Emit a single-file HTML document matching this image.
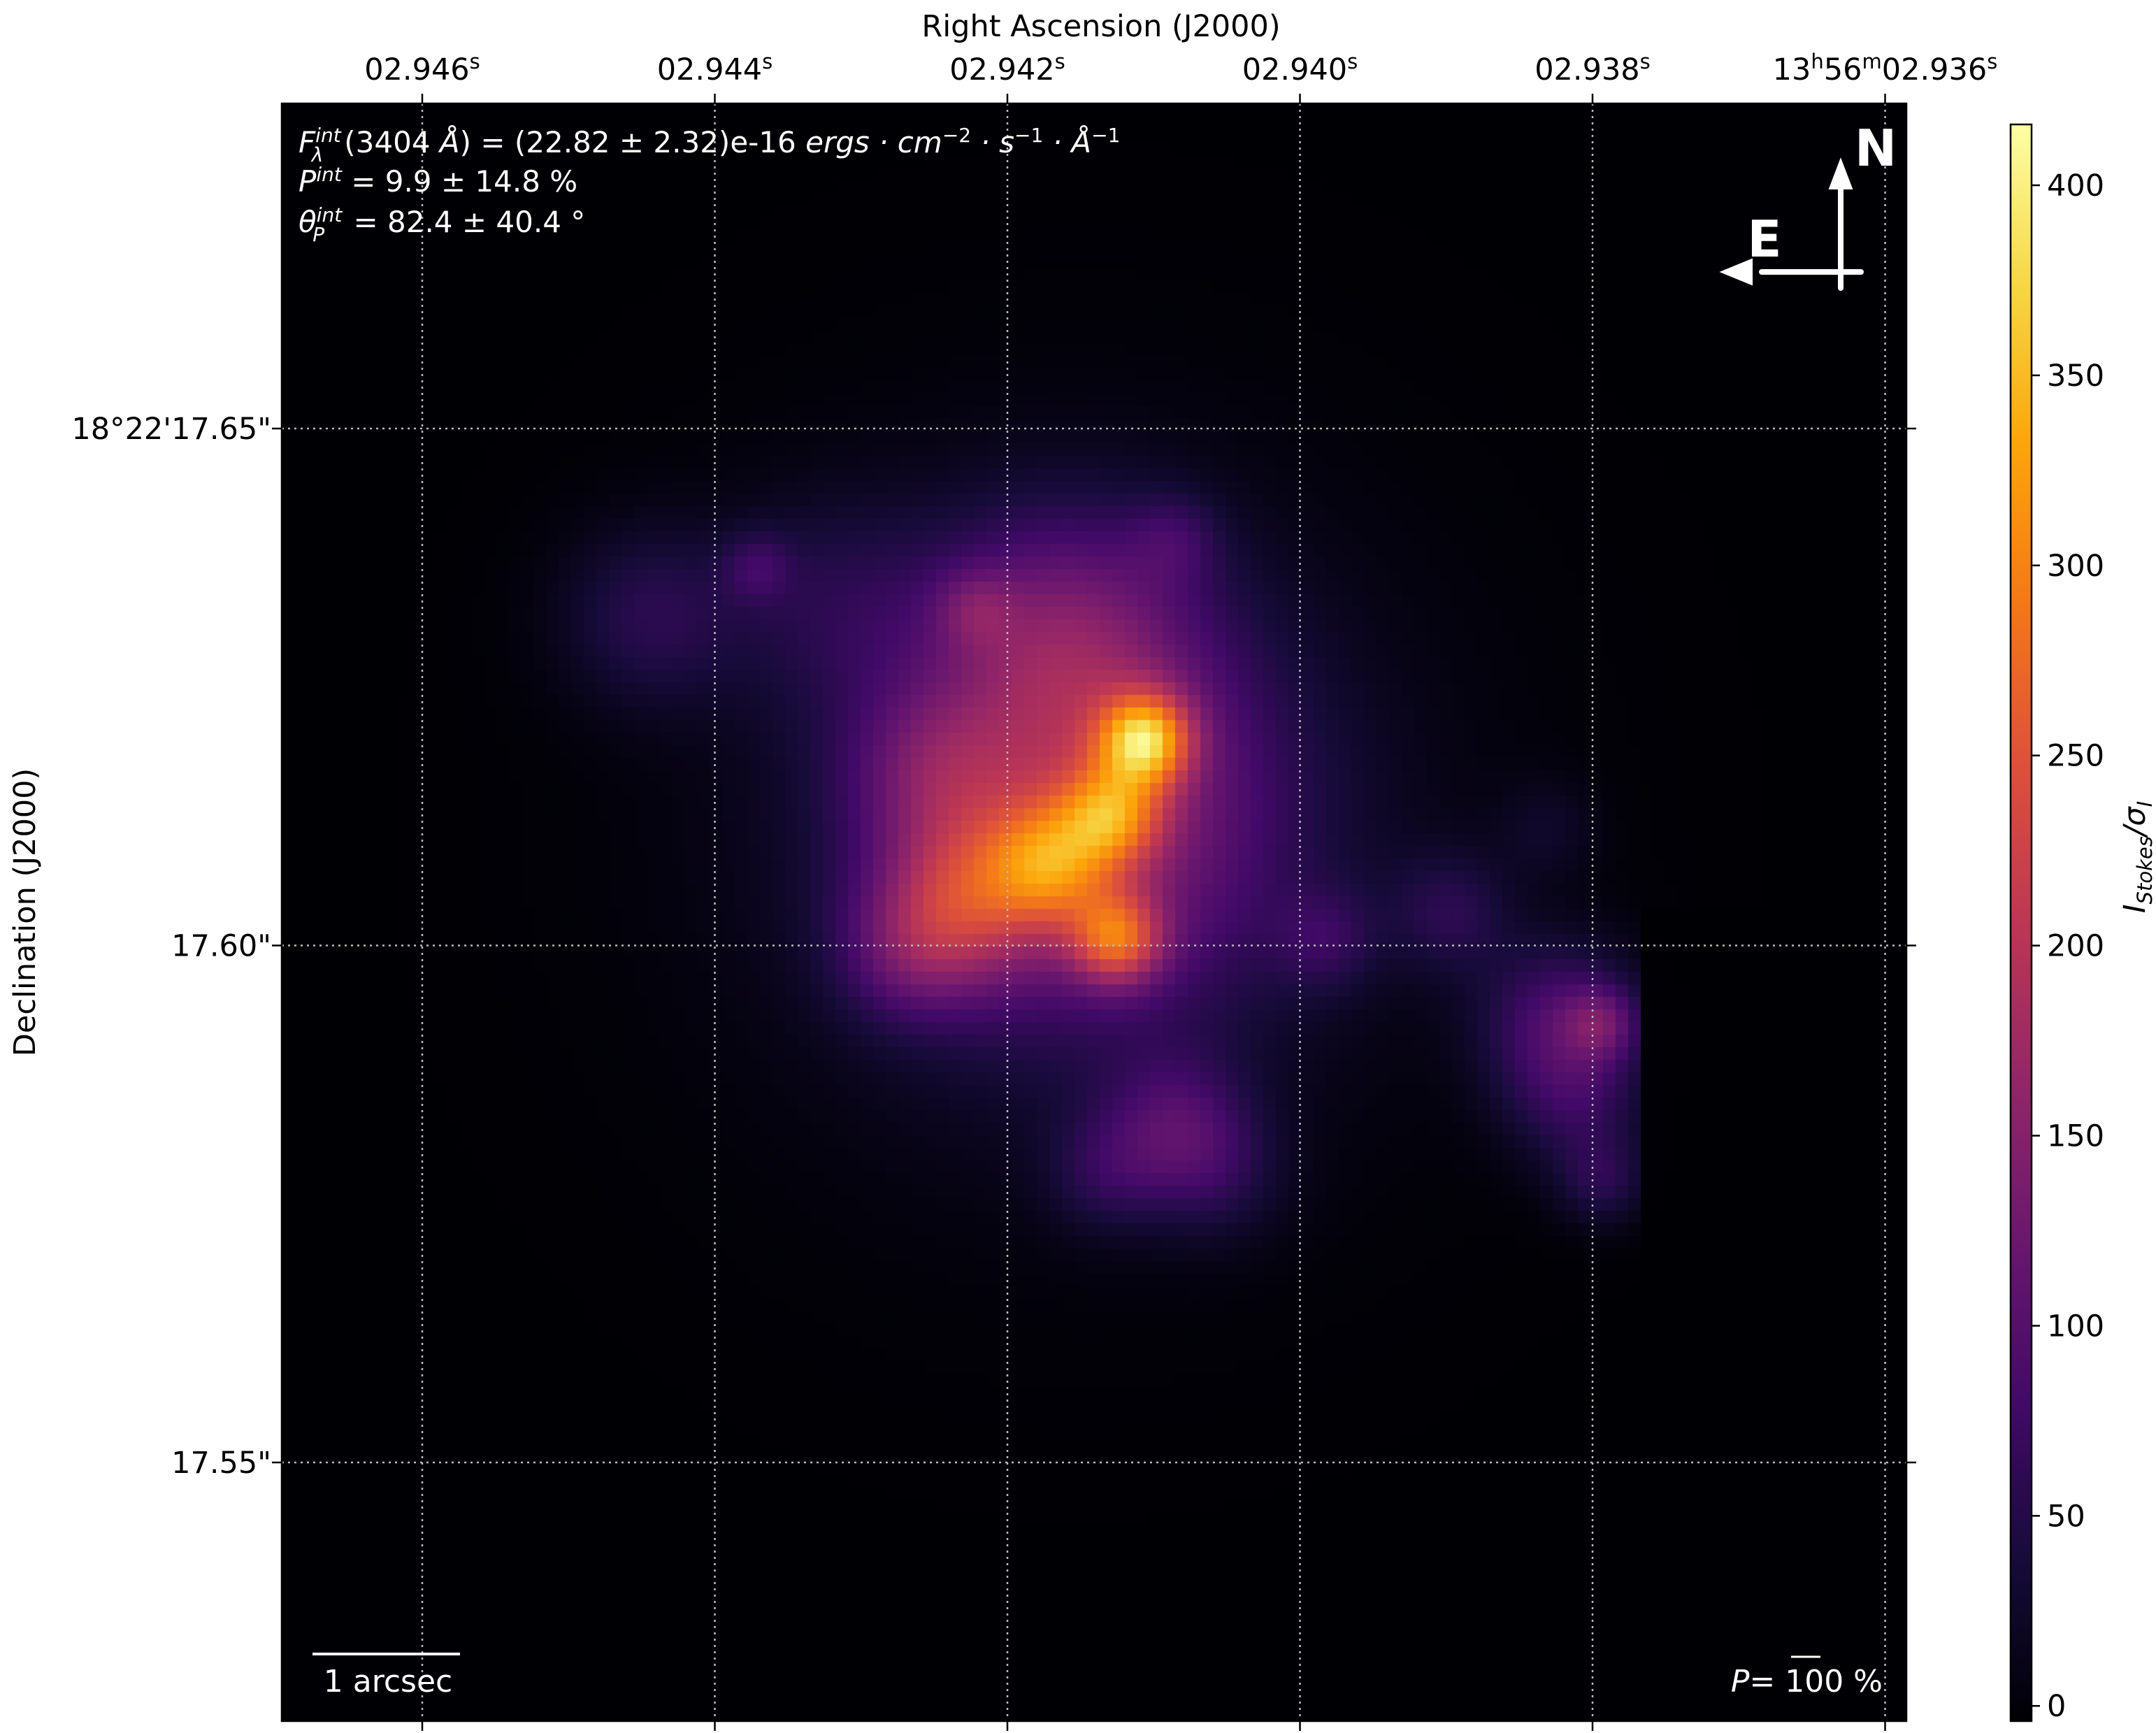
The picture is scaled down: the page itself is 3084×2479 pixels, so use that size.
<!DOCTYPE html>
<html><head><meta charset="utf-8">
<style>
html,body{margin:0;padding:0;background:#fff;}
#wrap{position:relative;width:3084px;height:2479px;overflow:hidden;font-family:"DejaVu Sans","Liberation Sans",sans-serif;}
#img{position:absolute;left:403px;top:148px;}
svg{position:absolute;left:0;top:0;}
</style></head>
<body>
<div id="wrap">
<canvas id="img" width="2324" height="2314"></canvas>
<svg id="ov" width="3084" height="2479"></svg>
</div>
<script>
// ---- data ----
const raTicks=[2.946,2.944,2.942,2.940,2.938,2.936];
const raTickLabels=["02.946","02.944","02.942","02.940","02.938","13h56m02.936"];
const decTicks=[17.65,17.60,17.55];
const decTickLabels=["18°22'17.65\"","17.60\"","17.55\""];
const cbTicks=[0,50,100,150,200,250,300,350,400];
const blobRA=[2.94106,2.94128,2.94170,2.94125,2.94152,2.94161,2.94222,2.94445,2.94322,2.94371,2.94086,2.94086,2.94133,2.94057,2.93982,2.93897,2.93831,2.93821,2.93794,2.93793,2.93811,2.94150,2.94227,2.94267,2.94251];
const blobDec=[17.6199,17.6126,17.6079,17.6006,17.6126,17.6300,17.6326,17.6319,17.6333,17.6366,17.6393,17.5825,17.5779,17.5779,17.6006,17.6032,17.6113,17.5925,17.5925,17.5772,17.5845,17.6110,17.6046,17.5995,17.6166];
const blobAmp=[240,160,150,180,130,90,50,55,40,45,40,70,45,40,45,50,25,90,70,50,50,35,120,70,60];
const blobSigma=[45,50,60,45,200,130,40,90,110,35,45,70,60,70,50,60,50,80,35,45,70,330,80,70,80];
const vmin=-4, vmax=416;
// ---- axes ----
const PL=403,PR=2727,PT=148,PB=2462;
function xOf(ra){return 604+(2.946-ra)/0.002*418.5;}
function yOf(dec){return 613+(17.65-dec)/0.05*739.5;}
const CBL=2876,CBR=2906,CBT=178,CBB=2462;
function cbY(v){return CBB-(v-vmin)/(vmax-vmin)*(CBB-CBT);}
const inf=[[0,0,0,4],[0.1,22,11,57],[0.2,66,10,104],[0.3,106,23,110],[0.4,147,38,103],[0.5,188,55,84],[0.6,221,81,58],[0.7,243,120,25],[0.8,252,165,10],[0.9,246,215,70],[1,252,255,164]];
function cmap(t){t=Math.max(0,Math.min(1,t));for(let i=1;i<inf.length;i++){if(t<=inf[i][0]){const a=inf[i-1],b=inf[i],f=(t-a[0])/(b[0]-a[0]);return [0,1,2].map(k=>Math.round(a[k+1]+(b[k+1]-a[k+1])*f));}}return [252,255,164];}
// ---- image ----
const cv=document.getElementById('img'),ctx=cv.getContext('2d');
ctx.fillStyle='#000000';ctx.fillRect(0,0,cv.width,cv.height);
const bx=blobRA.map(xOf),by=blobDec.map(yOf);
const cell=18;
for(let y=PT;y<PB;y+=cell){for(let x=PL;x<PR;x+=cell){
 const cx=x+cell/2,cy=y+cell/2;let v=0;
 for(let i=0;i<bx.length;i++){const dx=cx-bx[i],dy=cy-by[i];v+=blobAmp[i]*Math.exp(-(dx*dx+dy*dy)/(2*blobSigma[i]*blobSigma[i]));}
 if(cx>2345&&cy>1300)v*=0.05;
 v-=4;
 const c=cmap((v-vmin)/(vmax-vmin));ctx.fillStyle=`rgb(${c[0]},${c[1]},${c[2]})`;ctx.fillRect(x-PL,y-PT,cell+1,cell+1);
}}
// ---- svg overlay ----
const NS='http://www.w3.org/2000/svg',svg=document.getElementById('ov');
function mk(tag,attrs,parent){const e=document.createElementNS(NS,tag);for(const k in attrs)e.setAttribute(k,attrs[k]);(parent||svg).appendChild(e);return e;}
function txt(s,attrs,name){const e=mk('text',attrs);e.textContent=s;return e;}
const FS=43, SS=29;
raTicks.forEach((r,i)=>{const x=xOf(r);
 const g=mk('line',{x1:x,x2:x,y1:PT,y2:PB,stroke:'#bbb','stroke-width':2.5,'stroke-dasharray':'3,6'});
 
 const t1=mk('line',{x1:x,x2:x,y1:PT-14,y2:PT,stroke:'#000','stroke-width':2.5});
 
 const t2=mk('line',{x1:x,x2:x,y1:PB,y2:PB+14,stroke:'#000','stroke-width':2.5});
 
});
decTicks.forEach((d,i)=>{const y=yOf(d);
 const g=mk('line',{x1:PL,x2:PR,y1:y,y2:y,stroke:'#bbb','stroke-width':2.5,'stroke-dasharray':'3,6'});
 
 const t1=mk('line',{x1:PL-14,x2:PL,y1:y,y2:y,stroke:'#000','stroke-width':2.5});
 
 const t2=mk('line',{x1:PR,x2:PR+14,y1:y,y2:y,stroke:'#000','stroke-width':2.5});
 
 txt(decTickLabels[i],{x:388,y:y+15,'text-anchor':'end','font-size':FS,fill:'#000'},'dec-tick-label');
});
const fr=mk('rect',{x:PL,y:PT,width:PR-PL,height:PB-PT,fill:'none',stroke:'#000','stroke-width':2.5});

raTicks.forEach((r,i)=>{const x=xOf(r);
 const t=mk('text',{x:x,y:114,'text-anchor':'middle','font-size':FS,fill:'#000'});
 
 if(i<5){t.innerHTML=raTickLabels[i]+'<tspan dy="-16" font-size="'+SS+'">s</tspan>';}
 else{t.innerHTML='13<tspan dy="-16" font-size="'+SS+'">h</tspan><tspan dy="16">56</tspan><tspan dy="-16" font-size="'+SS+'">m</tspan><tspan dy="16">02.936</tspan><tspan dy="-16" font-size="'+SS+'">s</tspan>';}
});
txt('Right Ascension (J2000)',{x:1575,y:52,'text-anchor':'middle','font-size':FS,fill:'#000'},'x-axis-title');
txt('Declination (J2000)',{x:50,y:1305,'text-anchor':'middle','font-size':FS,fill:'#000',transform:'rotate(-90 50 1305)'},'y-axis-title');
const a1=mk('text',{x:427,y:218,'font-size':42,fill:'#fff'});
a1.innerHTML='<tspan font-style="italic">F</tspan><tspan dy="-15" font-size="28" font-style="italic">int</tspan><tspan dx="-42" dy="28" font-size="28" font-style="italic">λ</tspan><tspan dx="30" dy="-13">(3404 </tspan><tspan font-style="italic">Å</tspan><tspan>) = (22.82 ± 2.32)e-16 </tspan><tspan font-style="italic">ergs · cm</tspan><tspan dy="-15" font-size="28">−2</tspan><tspan dy="15" font-style="italic"> · s</tspan><tspan dy="-15" font-size="28">−1</tspan><tspan dy="15" font-style="italic"> · Å</tspan><tspan dy="-15" font-size="28">−1</tspan>';
const a2=mk('text',{x:427,y:274,'font-size':42,fill:'#fff'});
a2.innerHTML='<tspan font-style="italic">P</tspan><tspan dy="-15" font-size="28" font-style="italic">int</tspan><tspan dy="15"> = 9.9 ± 14.8 %</tspan>';
const a3=mk('text',{x:427,y:332,'font-size':42,fill:'#fff'});
a3.innerHTML='<tspan font-style="italic">θ</tspan><tspan dy="-15" font-size="28" font-style="italic">int</tspan><tspan dx="-42" dy="28" font-size="28" font-style="italic">P</tspan><tspan dx="28" dy="-13"> = 82.4 ± 40.4 °</tspan>';
const cmp=mk('g',{stroke:'#fff','stroke-width':8,'stroke-linecap':'round',fill:'#fff'});
mk('line',{x1:2633,y1:412,x2:2633,y2:270},cmp);
mk('polygon',{points:'2633,228 2617,270 2649,270','stroke-width':2},cmp);
mk('line',{x1:2662,y1:389,x2:2520,y2:389},cmp);
mk('polygon',{points:'2462,389 2506,371 2506,407','stroke-width':2},cmp);
txt('N',{x:2683,y:237,'text-anchor':'middle','font-size':72,'font-weight':'bold',fill:'#fff'},'north-label');
txt('E',{x:2524,y:367,'text-anchor':'middle','font-size':72,'font-weight':'bold',fill:'#fff'},'east-label');
const sb=mk('line',{x1:447,x2:658,y1:2366,y2:2366,stroke:'#fff','stroke-width':4});
txt('1 arcsec',{x:555,y:2420,'text-anchor':'middle','font-size':44,fill:'#fff'},'scale-bar-label');
const pv=mk('line',{x1:2562,x2:2604,y1:2370,y2:2370,stroke:'#fff','stroke-width':3});
const pt=mk('text',{x:2693,y:2420,'text-anchor':'end','font-size':44,fill:'#fff'});
pt.innerHTML='<tspan font-style="italic">P</tspan>= 100 %';
const defs=mk('defs',{});const lg=mk('linearGradient',{id:'cbg',x1:0,y1:1,x2:0,y2:0},defs);
inf.forEach(s=>{mk('stop',{offset:s[0],'stop-color':`rgb(${s[1]},${s[2]},${s[3]})`},lg);});
const cb=mk('rect',{x:CBL,y:CBT,width:CBR-CBL,height:CBB-CBT,fill:'url(#cbg)',stroke:'#000','stroke-width':2.5});
cbTicks.forEach(v=>{const y=cbY(v);
 const t=mk('line',{x1:CBR,x2:CBR+12,y1:y,y2:y,stroke:'#000','stroke-width':2.5});
 txt(String(v),{x:CBR+22,y:y+15,'font-size':FS,fill:'#000'},'colorbar-tick-label');
});
const cl=mk('text',{x:3068,y:1226,'text-anchor':'middle','font-size':FS,fill:'#000',transform:'rotate(-90 3068 1226)'});
cl.innerHTML='<tspan font-style="italic">I</tspan><tspan dy="10" font-size="29" font-style="italic">Stokes</tspan><tspan dy="-10" font-style="italic">/σ</tspan><tspan dy="10" font-size="29" font-style="italic">I</tspan>';
</script>
</body></html>
